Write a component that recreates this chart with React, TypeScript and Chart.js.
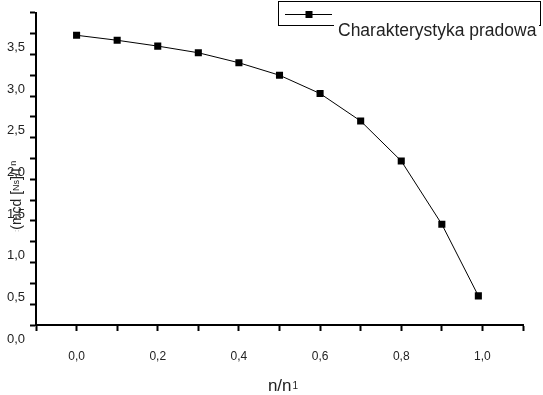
import React, { useEffect, useRef } from 'react';
import { Chart, registerables } from 'chart.js';

Chart.register(...registerables);

const xValues = [0, 0.1, 0.2, 0.3, 0.4, 0.5, 0.6, 0.7, 0.8, 0.9, 0.99];
const yValues = [3.48, 3.42, 3.35, 3.27, 3.15, 3.0, 2.78, 2.45, 1.97, 1.21, 0.35];
const seriesLabel = 'Charakterystyka pradowa';
const xTitleMain = 'n/n';
const xTitleSub = '1';
const yTitleParts = [
  { t: ':', size: 8, dy: 0, color: '#999' },
  { t: '(mcd [', size: 14, dy: 0, color: '#222' },
  { t: 'Ns', size: 9, dy: 0, color: '#222' },
  { t: ']/I', size: 14, dy: 0, color: '#222' },
  { t: ' n', size: 9, dy: 3, color: '#222' },
];

const FONT = '"Liberation Sans", Arial, sans-serif';

const fmt = (v: number) => v.toFixed(1).replace('.', ',');

const decorPlugin = {
  id: 'decor',
  afterDraw(chart: any) {
    const ctx = chart.ctx as CanvasRenderingContext2D;
    ctx.save();
    // Legend box
    ctx.strokeStyle = '#000';
    ctx.lineWidth = 1;
    ctx.strokeRect(278.5, 1.5, 262, 24);
    // legend sample line + marker
    ctx.beginPath();
    ctx.moveTo(285, 14.5);
    ctx.lineTo(332, 14.5);
    ctx.stroke();
    ctx.fillStyle = '#000';
    ctx.fillRect(305.5, 11, 7, 7);
    // white backing for text
    ctx.fillStyle = '#fff';
    ctx.fillRect(334, 22, 205, 20);
    ctx.fillStyle = '#222';
    ctx.font = `17.5px ${FONT}`;
    ctx.textAlign = 'left';
    ctx.textBaseline = 'alphabetic';
    ctx.fillText(seriesLabel, 338, 36);

    // X title
    ctx.font = `17px ${FONT}`;
    const wMain = ctx.measureText(xTitleMain).width;
    ctx.font = `10px ${FONT}`;
    const wSub = ctx.measureText(xTitleSub).width;
    const startX = 283 - (wMain + wSub + 1) / 2;
    ctx.font = `17px ${FONT}`;
    ctx.fillText(xTitleMain, startX, 391);
    ctx.font = `10px ${FONT}`;
    ctx.fillText(xTitleSub, startX + wMain + 1, 389);

    // Y title (rotated)
    ctx.translate(17, 232);
    ctx.rotate(-Math.PI / 2);
    ctx.textBaseline = 'middle';
    let px = 0;
    for (const p of yTitleParts) {
      ctx.font = `${p.size}px ${FONT}`;
      ctx.fillStyle = p.color;
      ctx.fillText(p.t, px, -p.dy);
      px += ctx.measureText(p.t).width;
    }
    ctx.restore();
  },
};

export default function App() {
  const ref = useRef<HTMLCanvasElement | null>(null);
  useEffect(() => {
    if (!ref.current) return;
    const chart = new Chart(ref.current, {
      type: 'line',
      data: {
        datasets: [
          {
            label: seriesLabel,
            data: xValues.map((x, i) => ({ x, y: yValues[i] })),
            borderColor: '#000',
            borderWidth: 1,
            backgroundColor: '#000',
            pointStyle: 'rect',
            pointRadius: 5,
            pointBorderWidth: 0,
            tension: 0,
          },
        ],
      },
      options: {
        animation: false,
        responsive: false,
        maintainAspectRatio: false,
        layout: { padding: { top: 12, right: 20, left: 0, bottom: 0 } },
        plugins: { legend: { display: false }, tooltip: { enabled: false } },
        scales: {
          x: {
            type: 'linear',
            min: -0.1,
            max: 1.1,
            afterFit: (s: any) => {
              s.height = 70;
            },
            ticks: {
              stepSize: 0.1,
              autoSkip: false,
              maxRotation: 0,
              padding: 18,
              color: '#222',
              font: { family: FONT, size: 12 },
              callback: (v: any) => {
                const r = Math.round(Number(v) * 10);
                return r % 2 === 0 && r >= 0 && r <= 10 ? fmt(r / 10) : '';
              },
            },
            grid: {
              display: true,
              drawOnChartArea: false,
              drawTicks: true,
              tickLength: 6,
              tickColor: '#000',
              tickWidth: 2,
            },
            border: { display: true, color: '#000', width: 2 },
          },
          y: {
            type: 'linear',
            min: 0,
            max: 3.75,
            afterFit: (s: any) => {
              s.width = 36;
            },
            ticks: {
              stepSize: 0.25,
              autoSkip: false,
              padding: 5,
              labelOffset: 14,
              color: '#222',
              font: { family: FONT, size: 13 },
              callback: (v: any) => {
                const r = Math.round(Number(v) * 4);
                return r % 2 === 0 && r <= 14 ? fmt(r / 4) : '';
              },
            },
            grid: {
              display: true,
              drawOnChartArea: false,
              drawTicks: true,
              tickLength: 6,
              tickColor: '#000',
              tickWidth: 2,
            },
            border: { display: true, color: '#000', width: 2 },
          },
        },
      },
      plugins: [decorPlugin],
    });
    return () => chart.destroy();
  }, []);
  return (
    <div style={{ position: 'fixed', left: 0, top: 0, width: 543, height: 395, background: '#fff' }}>
      <canvas ref={ref} width={543} height={395} style={{ width: 543, height: 395, display: 'block' }} />
    </div>
  );
}
